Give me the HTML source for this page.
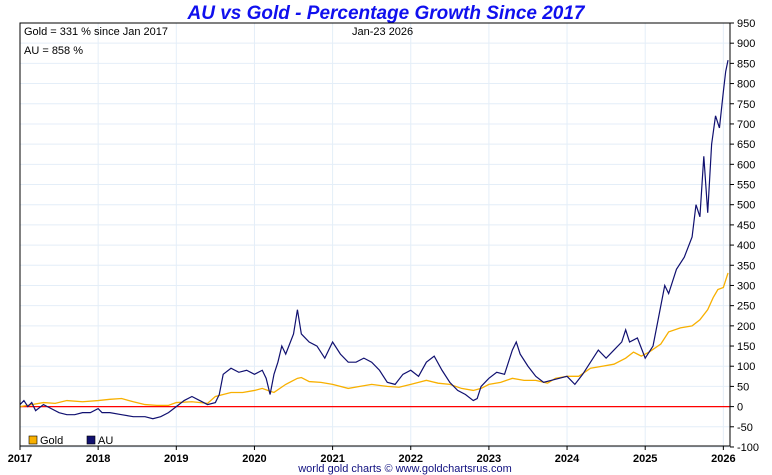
<!DOCTYPE html>
<html><head><meta charset="utf-8"><style>
body{margin:0;background:#fff;font-family:"Liberation Sans",sans-serif}
svg{display:block}
</style></head><body>
<svg id="c" width="772" height="475">
<text x="386" y="19" text-anchor="middle" font-size="19" font-weight="bold" font-style="italic" fill="#1010ee">AU vs Gold - Percentage Growth Since 2017</text>
<g id="grid"></g>
<g id="series"></g>
<rect x="20" y="23" width="710" height="423" fill="none" stroke="#000"/>
<text x="24" y="35" font-size="11">Gold = 331 % since Jan 2017</text>
<text x="352" y="35" font-size="11">Jan-23  2026</text>
<text x="24" y="54" font-size="11">AU = 858 %</text>
<g>
<rect x="29" y="436" width="8" height="8" fill="#f8b000" stroke="#000" stroke-width="0.6"/>
<text x="40" y="444" font-size="11">Gold</text>
<rect x="87" y="436" width="8" height="8" fill="#101070" stroke="#000" stroke-width="0.6"/>
<text x="98" y="444" font-size="11">AU</text>
</g>
<text x="405" y="472" text-anchor="middle" font-size="11" fill="#101080">world gold charts © www.goldchartsrus.com</text>
</svg>
<script>
const yTicks=[-100,-50,0,50,100,150,200,250,300,350,400,450,500,550,600,650,700,750,800,850,900,950];
const xYears=[2017,2018,2019,2020,2021,2022,2023,2024,2025,2026];
const goldT=[2017,2017.15,2017.3,2017.45,2017.6,2017.8,2018,2018.15,2018.3,2018.45,2018.6,2018.75,2018.9,2019,2019.2,2019.4,2019.5,2019.6,2019.7,2019.85,2020,2020.1,2020.2,2020.25,2020.4,2020.55,2020.6,2020.7,2020.85,2021,2021.2,2021.35,2021.5,2021.7,2021.85,2022,2022.2,2022.35,2022.5,2022.65,2022.8,2022.9,2023,2023.15,2023.3,2023.45,2023.6,2023.75,2023.85,2024,2024.15,2024.3,2024.45,2024.6,2024.75,2024.85,2024.95,2025.05,2025.2,2025.3,2025.45,2025.6,2025.7,2025.8,2025.87,2025.93,2026,2026.06];
const goldV=[0,5,10,8,15,12,15,18,20,12,5,3,3,10,12,8,25,30,35,35,40,45,38,35,55,70,72,62,60,55,45,50,55,50,48,55,65,58,55,45,40,45,55,60,70,65,65,58,70,75,75,95,100,105,120,135,125,135,155,185,195,200,215,240,270,290,295,331];
const auT=[2017,2017.05,2017.1,2017.15,2017.2,2017.3,2017.4,2017.5,2017.6,2017.7,2017.8,2017.9,2018,2018.05,2018.15,2018.3,2018.45,2018.6,2018.7,2018.8,2018.9,2019,2019.1,2019.2,2019.3,2019.4,2019.5,2019.55,2019.6,2019.7,2019.8,2019.9,2020,2020.1,2020.15,2020.2,2020.25,2020.3,2020.35,2020.4,2020.5,2020.55,2020.6,2020.7,2020.8,2020.9,2021,2021.1,2021.2,2021.3,2021.4,2021.5,2021.6,2021.7,2021.8,2021.9,2022,2022.1,2022.2,2022.3,2022.4,2022.5,2022.6,2022.7,2022.8,2022.85,2022.9,2023,2023.1,2023.2,2023.3,2023.35,2023.4,2023.5,2023.6,2023.7,2023.8,2023.9,2024,2024.1,2024.2,2024.3,2024.4,2024.5,2024.6,2024.7,2024.75,2024.8,2024.9,2025,2025.1,2025.15,2025.25,2025.3,2025.4,2025.5,2025.6,2025.65,2025.7,2025.75,2025.8,2025.85,2025.9,2025.95,2026,2026.03,2026.06];
const auV=[5,15,0,10,-10,5,-5,-15,-20,-20,-15,-15,-5,-15,-15,-20,-25,-25,-30,-25,-15,0,15,25,15,5,10,30,80,95,85,90,80,90,70,30,80,110,150,130,180,240,180,160,150,120,160,130,110,110,120,110,90,60,55,80,90,75,110,125,90,60,40,30,15,20,50,70,85,80,140,160,130,100,75,60,65,70,75,55,80,110,140,120,140,160,190,160,170,120,150,200,300,280,340,370,420,500,470,620,480,650,720,690,780,830,858];
const L=20,R=730,T=23,B=446;
const x=t=>L+(t-2017)*78.15;
const y=v=>406.6-v*(20.19/50);
const ns="http://www.w3.org/2000/svg";
const grid=document.getElementById('grid'),ser=document.getElementById('series'),svg=document.getElementById('c');
function mk(tag,attrs,parent){const e=document.createElementNS(ns,tag);for(const k in attrs)e.setAttribute(k,attrs[k]);parent.appendChild(e);return e;}
yTicks.forEach(v=>{
 const g=mk('line',{x1:L,x2:R,y1:y(v),y2:y(v),stroke:'#e4eef8'},grid);
 
 
 mk('line',{x1:R,x2:R+4,y1:y(v),y2:y(v),stroke:'#000'},grid);
 const t=mk('text',{x:R+7,y:y(v)+4,'font-size':11},grid);t.textContent=v;
 
 
});
xYears.forEach(yr=>{
 const g=mk('line',{x1:x(yr),x2:x(yr),y1:T,y2:B,stroke:'#e4eef8'},grid);
 
 
 mk('line',{x1:x(yr),x2:x(yr),y1:B,y2:B+4,stroke:'#000'},grid);
 const t=mk('text',{x:x(yr),y:462,'font-size':11,'font-weight':'bold','text-anchor':'middle'},grid);t.textContent=yr;
 
 
});
const z=mk('line',{x1:L,x2:R,y1:y(0),y2:y(0),stroke:'#ff0000','stroke-width':1.2},ser);


const gp=mk('polyline',{points:goldT.map((t,i)=>x(t)+','+y(goldV[i])).join(' '),fill:'none',stroke:'#f8b000','stroke-width':1.3},ser);


const ap=mk('polyline',{points:auT.map((t,i)=>x(t)+','+y(auV[i])).join(' '),fill:'none',stroke:'#101070','stroke-width':1.2},ser);


</script>
</body></html>
